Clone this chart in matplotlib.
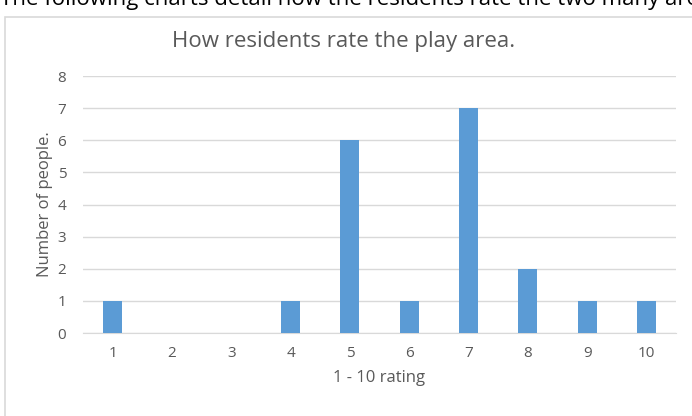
import numpy as np
import matplotlib
matplotlib.use("Agg")
import matplotlib.pyplot as plt
from matplotlib.patches import Rectangle

plt.rcParams['font.family'] = ['Open Sans', 'DejaVu Sans']

ratings = [1, 2, 3, 4, 5, 6, 7, 8, 9, 10]
people = [1, 0, 0, 1, 6, 1, 7, 2, 1, 1]
title = "How residents rate the play area."
intro = "The following charts detail how the residents rate the two many are"

text_col = '#595959'
bar_col = '#5B9BD5'
grid_col = '#D9D9D9'

fig = plt.figure(figsize=(6.92, 4.16), dpi=100)
ax = fig.add_axes([0.12, 0.1995, 0.857, 0.6175])

ax.bar(ratings, people, width=0.32, color=bar_col, zorder=3)
ax.set_xlim(0.5, 10.5)
ax.set_ylim(0, 8)
ax.set_yticks(range(0, 9))
ax.set_xticks(ratings)
ax.yaxis.grid(True, color=grid_col, linewidth=1, zorder=0)
for s in ax.spines.values():
    s.set_visible(False)
ax.spines['bottom'].set_visible(True)
ax.spines['bottom'].set_color(grid_col)
ax.tick_params(length=0, labelsize=11, labelcolor=text_col)
ax.tick_params(axis='x', pad=9)
ax.tick_params(axis='y', pad=12)

ax.set_xlabel("1 - 10 rating", fontsize=12, color=text_col, labelpad=7)
ax.set_ylabel("Number of people.", fontsize=12, color=text_col, labelpad=3)

fig.text(0.497, 0.9, title, fontsize=16, color=text_col, ha='center', va='center')

# chart frame (left and top edges visible in the crop)
fig.add_artist(Rectangle((0.0075, -0.05), 1.2, 1.009, transform=fig.transFigure,
                         fill=False, edgecolor='#D9D9D9', linewidth=1.2))

# cut-off sentence above the chart
fig.text(0.0, 1.0, intro, fontsize=16, color='black', ha='left', va='center')

fig.savefig("out.png", dpi=100)
